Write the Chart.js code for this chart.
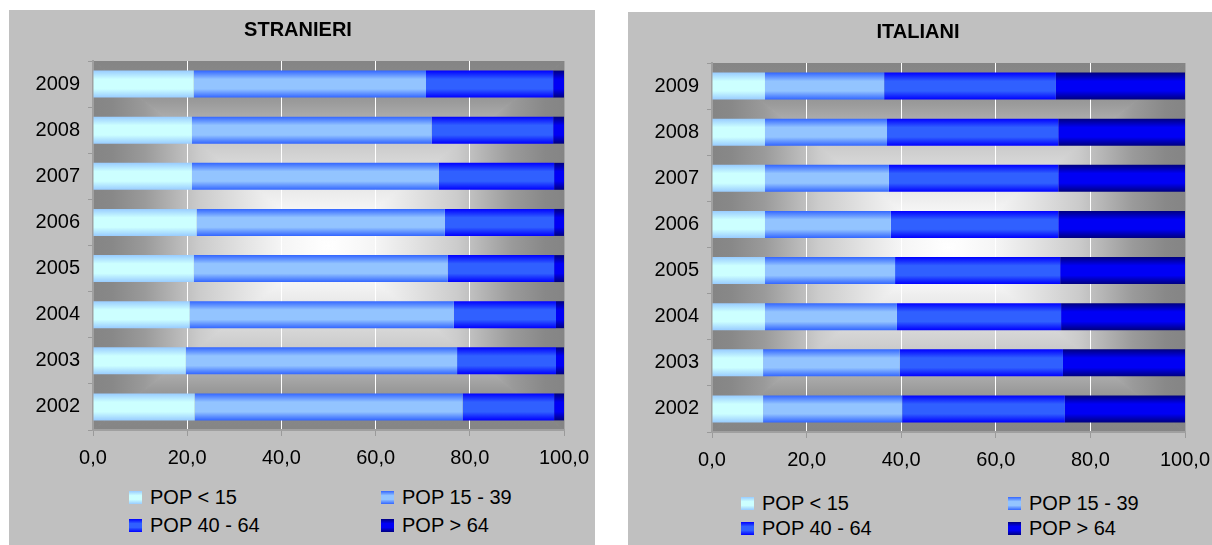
<!DOCTYPE html>
<html>
<head>
<meta charset="utf-8">
<script src="https://cdn.jsdelivr.net/npm/chart.js@4.4.0/dist/chart.umd.min.js"></script>
<style>
  body { margin: 0; background: #fff; width: 1212px; height: 545px; overflow: hidden; position: relative;
         font-family: "Liberation Sans", Arial, sans-serif; }
  .panel { position: absolute; background: #c0c0c0; }
  .panel canvas { position: absolute; left: 0; top: 0; }
  .key { position: absolute; display: flex; align-items: center; height: 24px; font-size: 20px; color: #000; white-space: nowrap; }
  .key .sw { width: 13px; height: 13px; display: inline-block; }
</style>
</head>
<body>
<div class="panel" id="p1" style="left:9px;top:10px;width:586px;height:535px"><canvas id="c1" width="586" height="470"></canvas></div>
<div class="panel" id="p2" style="left:628px;top:12px;width:584px;height:533px"><canvas id="c2" width="584" height="470"></canvas></div>
<script>
// categories, top to bottom
const years = ['2009', '2008', '2007', '2006', '2005', '2004', '2003', '2002'];
const seriesNames = ['POP < 15', 'POP 15 - 39', 'POP 40 - 64', 'POP > 64'];
const xTicks = [0, 20, 40, 60, 80, 100];

// STRANIERI (%)
const strUnder15 = [21.4, 21.0, 21.0, 22.0, 21.4, 20.5, 19.7, 21.6];
const str15to39  = [49.3, 50.9, 52.4, 52.7, 53.9, 56.1, 57.6, 56.9];
const str40to64  = [27.0, 25.8, 24.5, 23.2, 22.6, 21.7, 21.0, 19.4];
const strOver64  = [2.3, 2.3, 2.1, 2.1, 2.1, 1.7, 1.7, 2.1];

// ITALIANI (%)
const itaUnder15 = [11.2, 11.2, 11.2, 11.2, 11.2, 11.2, 10.8, 10.8];
const ita15to39  = [25.2, 25.8, 26.2, 26.6, 27.5, 27.9, 28.9, 29.4];
const ita40to64  = [36.3, 36.2, 35.8, 35.4, 34.9, 34.7, 34.5, 34.4];
const itaOver64  = [27.3, 26.8, 26.8, 26.8, 26.4, 26.2, 25.8, 25.4];

// bar shading: edge colour, middle colour
const shades = [
  ['#99ccff', '#ccffff'],
  ['#3366ff', '#93c4ff'],
  ['#0000ff', '#3060ff'],
  ['#000080', '#0000f5']
];

const FONT = '"Liberation Sans", Arial, sans-serif';
const CAT_PCT = 0.9, BAR_PCT = 0.65;

function barFill(edge, mid) {
  return function (c) {
    const chart = c.chart;
    const y = chart.scales.y;
    if (!y || !chart.chartArea || c.dataIndex === undefined) return mid;
    const centre = y.getPixelForValue(c.dataIndex);
    const half = y.height / y.getLabels().length * CAT_PCT * BAR_PCT / 2;
    const g = chart.ctx.createLinearGradient(0, centre - half, 0, centre + half);
    g.addColorStop(0, edge);
    g.addColorStop(0.32, mid);
    g.addColorStop(0.68, mid);
    g.addColorStop(1, edge);
    return g;
  };
}

// grey plot area that brightens towards the middle
const plotShade = {
  id: 'plotShade',
  beforeDraw(chart) {
    const ctx = chart.ctx, a = chart.chartArea;
    const cx = (a.left + a.right) / 2, cy = (a.top + a.bottom) / 2;
    const stops = [[0, '#ffffff'], [0.2, '#f5f5f5'], [0.35, '#e4e4e4'], [0.55, '#cbcbcb'],
                   [0.78, '#9a9a9a'], [0.92, '#888888'], [1, '#858585']];
    const sides = [
      [a.left, a.top, a.right, a.top, cx, a.top],
      [a.right, a.top, a.right, a.bottom, a.right, cy],
      [a.right, a.bottom, a.left, a.bottom, cx, a.bottom],
      [a.left, a.bottom, a.left, a.top, a.left, cy]
    ];
    ctx.save();
    ctx.beginPath();
    ctx.rect(a.left, a.top, a.right - a.left, a.bottom - a.top);
    ctx.clip();
    sides.forEach(s => {
      const g = ctx.createLinearGradient(cx, cy, s[4], s[5]);
      stops.forEach(st => g.addColorStop(st[0], st[1]));
      ctx.fillStyle = g;
      ctx.strokeStyle = g;
      ctx.beginPath();
      ctx.moveTo(cx, cy);
      ctx.lineTo(s[0], s[1]);
      ctx.lineTo(s[2], s[3]);
      ctx.closePath();
      ctx.fill();
      ctx.stroke();
    });
    ctx.restore();
  }
};

function makeChart(id, title, values, layoutRight, plotRight) {
  return new Chart(document.getElementById(id), {
    type: 'bar',
    data: {
      labels: years,
      datasets: seriesNames.map((name, i) => ({
        label: name,
        data: values[i],
        backgroundColor: barFill(shades[i][0], shades[i][1]),
        borderWidth: 0,
        categoryPercentage: CAT_PCT,
        barPercentage: BAR_PCT
      }))
    },
    options: {
      indexAxis: 'y',
      responsive: false,
      animation: false,
      layout: { padding: { left: 0, right: layoutRight, top: 0, bottom: 0 } },
      scales: {
        x: {
          stacked: true,
          min: 0,
          max: 100,
          afterBuildTicks: s => { s.ticks = xTicks.map(v => ({ value: v })); },
          afterFit: s => { s.height = 50; s.paddingLeft = 0; s.paddingRight = plotRight; },
          ticks: {
            color: '#000',
            font: { family: FONT, size: 20 },
            padding: 10,
            callback: v => v.toFixed(1).replace('.', ',')
          },
          grid: {
            color: c => (c.index === 0 ? 'rgba(0,0,0,0)' : (c.tick && c.tick.value === 100 ? '#a6a6a6' : '#ffffff')),
            lineWidth: 1,
            tickColor: '#9a9a9a',
            tickLength: 6
          },
          border: { color: '#a0a0a0', width: 2 }
        },
        y: {
          stacked: true,
          afterFit: s => { s.width = 84; },
          ticks: {
            color: '#000',
            font: { family: FONT, size: 20 },
            padding: 8
          },
          grid: {
            drawOnChartArea: false,
            offset: true,
            tickColor: '#9a9a9a',
            tickLength: 5
          },
          border: { color: '#a0a0a0', width: 2 }
        }
      },
      plugins: {
        legend: { display: false },
        tooltip: { enabled: false },
        title: {
          display: true,
          text: title,
          color: '#000',
          font: { family: FONT, size: 20, weight: 'bold' },
          padding: { top: 8, bottom: 19 }
        }
      }
    },
    plugins: [plotShade]
  });
}

makeChart('c1', 'STRANIERI', [strUnder15, str15to39, str40to64, strOver64], 8, 31);
makeChart('c2', 'ITALIANI', [itaUnder15, ita15to39, ita40to64, itaOver64], 4, 27);

// legends: two columns, two rows
function makeKey(panelId, cols, rows) {
  const panel = document.getElementById(panelId);
  seriesNames.forEach((name, i) => {
    const item = document.createElement('div');
    item.className = 'key';
    item.style.left = cols[i % 2] + 'px';
    item.style.top = (rows[Math.floor(i / 2)] - 12) + 'px';
    const sw = document.createElement('span');
    sw.className = 'sw';
    sw.style.background = 'linear-gradient(to bottom,' + shades[i][0] + ',' + shades[i][1] + ' 35%,' + shades[i][1] + ' 65%,' + shades[i][0] + ')';
    const txt = document.createElement('span');
    txt.textContent = name;
    txt.style.marginLeft = '8px';
    item.appendChild(sw);
    item.appendChild(txt);
    panel.appendChild(item);
  });
}
makeKey('p1', [120, 372], [487, 515]);
makeKey('p2', [113, 380], [491, 516]);
</script>
</body>
</html>
